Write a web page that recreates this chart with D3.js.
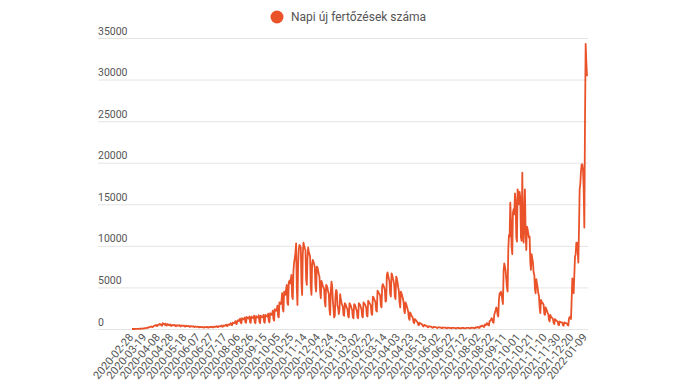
<!DOCTYPE html>
<html>
<head>
<meta charset="utf-8">
<script src="https://cdn.jsdelivr.net/npm/d3@7"></script>
<style>
  body { margin: 0; background: #fff; }
  text { font-family: Roboto, "Noto Sans", sans-serif; }
</style>
</head>
<body>
<div id="chart"></div>
<script>
// Series name
var seriesName = 'Napi új fertőzések száma';

// Daily new cases, one value per reported day (category axis)
var cases = [
  0,0,1,0,2,3,5, 7,9,17,25,30,28,32, 40,55,62,50,75,90,110, 120,140,170,130,200,230,250,
  260,300,250,230,330,380,400, 420,500,380,340,480,560,520, 600,540,420,400,700,620,580,
  520,650,450,400,600,560,470, 480,550,400,360,500,470,430, 450,500,370,320,460,420,400,
  420,470,350,300,430,400,380, 380,420,320,280,400,370,340, 350,380,290,260,360,330,300,
  300,330,250,230,300,280,260, 260,280,210,200,260,240,230, 230,250,180,170,240,220,210,
  220,260,180,180,250,240,230, 240,280,200,190,280,270,260, 300,340,240,220,340,320,310,
  360,420,290,270,420,400,380, 450,520,370,340,540,520,500, 600,700,480,450,750,720,700,
  800,950,620,600,1000,1050,950, 1100,1250,750,700,1300,1200,1150, 1200,1400,800,750,1450,1350,1300,
  1250,1500,800,750,1500,1400,1350, 1300,1600,800,700,1550,1450,1400, 1350,1650,850,700,1600,1500,1450,
  1400,1700,850,750,1700,1600,1550, 1500,1850,950,800,1900,1800,1700, 1800,2200,1200,1000,2400,2300,2200,
  2300,2800,1500,1400,3200,3100,3000, 3300,4300,2400,2100,4500,4200,4100, 4800,5300,3100,2900,5600,5800,5500,
  6000,6500,3900,3600,7000,8000,8500, 9200,10300,5000,2900,7800,9600,10100, 10000,9800,5500,4100,9000,10400,10000,
  9700,9500,6000,5300,8500,9800,9300, 9000,8700,5000,4100,7800,8300,8100, 7800,7400,5200,4500,7500,7400,7000,
  6600,6300,4500,3700,5800,5500,5200, 5000,4800,3200,2700,5300,5200,4900, 4500,4200,2300,1700,4600,5700,5200,
  3500,2500,1400,1600,4000,4700,4500, 2800,2500,1800,2300,4200,3600,3200, 2900,2700,1700,1600,3100,3000,2800,
  2500,2400,1500,1400,3100,3000,2800, 2500,2300,1400,1300,3000,2900,2700, 2400,2200,1400,1300,3100,3000,2900,
  2600,2400,1500,1400,3200,3100,3000, 2800,2600,1600,1500,3400,3300,3100, 3000,2800,1800,1700,3900,3800,3600,
  3400,3200,2200,2100,4600,4500,4300, 4200,4000,2800,2600,5100,5400,5200, 5000,4700,3300,3400,6500,6800,6400,
  6000,5700,4200,3900,6700,6500,6100, 5800,5300,3900,3600,6300,6100,5600, 5000,4600,3200,2600,4500,4300,4000,
  3700,3300,2200,1900,3200,3000,2700, 2400,2100,1300,1100,2000,1800,1600, 1500,1300,800,700,1200,1100,1000,
  900,800,500,450,750,700,650, 600,520,330,300,500,460,420, 400,350,230,210,350,320,300,
  280,250,160,150,260,240,230, 220,200,130,120,210,200,190, 180,170,110,100,180,170,160,
  160,150,100,90,160,150,140, 140,130,90,80,140,130,130, 130,120,80,75,130,125,120,
  120,115,75,70,130,125,120, 120,115,80,75,140,135,130, 130,125,85,80,160,150,145,
  150,140,90,85,190,180,170, 250,230,150,140,350,330,320, 420,390,260,250,550,530,500,
  700,650,450,420,950,1000,1100, 1300,1200,800,750,1700,2000,2200, 2600,2400,1700,1500,3500,4300,4100,
  4500,4200,3500,3000,7000,7900,7500, 7000,6000,5000,4500,9500,11300,11100, 15200,13200,9900,9000,14000,14400,13800,
  16300,15500,11000,10500,16800,16300,15000, 16500,15800,11000,10600,18800,13000,10400, 14000,16800,11500,9500,12300,12000,11500,
  11000,11100,8000,7100,9000,8500,8000, 6800,6500,4800,4300,6000,5500,5000, 4300,4000,2600,1900,3500,3300,3100,
  3100,2900,1800,1700,2600,2400,2200, 1900,1800,1100,900,1700,1500,1400, 1300,1200,700,600,1200,1100,1000,
  950,900,500,450,900,850,800, 800,750,450,400,800,750,700, 700,650,450,420,1300,1400,1500,
  1200,3500,6100,5000,4300,6500,8700, 9000,10400,10400,9500,8000,12000,16800, 17500,19000,19800,19800,19200,17000,12200,
  25000,34300,32100,30400
];

// Axis ticks: every 20th category gets a label
var yTicks = [0, 5000, 10000, 15000, 20000, 25000, 30000, 35000];
var labelStep = 20;
var xTickLabels = [
  '2020-02-28','2020-03-19','2020-04-08','2020-04-28','2020-05-18','2020-06-07','2020-06-27',
  '2020-07-17','2020-08-06','2020-08-26','2020-09-15','2020-10-05','2020-10-25','2020-11-14',
  '2020-12-04','2020-12-24','2021-01-13','2021-02-02','2021-02-22','2021-03-14','2021-04-03',
  '2021-04-23','2021-05-13','2021-06-02','2021-06-22','2021-07-12','2021-08-02','2021-08-22',
  '2021-09-11','2021-10-01','2021-10-21','2021-11-10','2021-11-30','2021-12-20','2022-01-09'
];

var width = 685, height = 385;
var lineColor = '#ea532a';

var svg = d3.select('#chart')
  .append('svg')
    .attr('width', width)
    .attr('height', height)
    .style('background-color', 'white');

var x = d3.scaleLinear()
  .domain([0, cases.length - 1])
  .range([132, 587]);

var y = d3.scaleLinear()
  .domain([0, 35000])
  .range([329, 38]);

//Horizontal grid lines with labels sitting on top of them
var grid = svg.append('g').attr('class', 'grid');
grid.selectAll('line').data(yTicks).enter().append('line')
  .attr('x1', 98)
  .attr('x2', 588)
  .attr('y1', function(d){ return y(d) + 0.5; })
  .attr('y2', function(d){ return y(d) + 0.5; })
  .attr('stroke', '#e4e4e4')
  .attr('stroke-width', 1);

grid.selectAll('text').data(yTicks).enter().append('text')
  .attr('x', 98)
  .attr('y', function(d){ return y(d) - 3.5; })
  .attr('font-size', '10.5px')
  .attr('fill', '#555')
  .text(function(d){ return d; });

//Rotated category labels
svg.append('g').attr('class', 'x-labels')
  .selectAll('text').data(xTickLabels).enter().append('text')
  .attr('text-anchor', 'end')
  .attr('dy', '0.35em')
  .attr('font-size', '11px')
  .attr('fill', '#555')
  .attr('transform', function(d, i){
    return 'translate(' + (x(i * labelStep) - 1) + ',335) rotate(-50)';
  })
  .text(function(d){ return d; });

//The data line
var line = d3.line()
  .x(function(d, i){ return x(i); })
  .y(function(d){ return y(d); });

svg.append('path')
  .datum(cases)
  .attr('d', line)
  .attr('fill', 'none')
  .attr('stroke', lineColor)
  .attr('stroke-width', 1.8)
  .attr('stroke-linejoin', 'round');

//Legend
var legend = svg.append('g').attr('class', 'legend');
legend.append('circle')
  .attr('cx', 277)
  .attr('cy', 17)
  .attr('r', 6.5)
  .attr('fill', lineColor);
legend.append('text')
  .attr('x', 291)
  .attr('y', 21)
  .attr('font-size', '12px')
  .attr('fill', '#555')
  .text(seriesName);
</script>
</body>
</html>
